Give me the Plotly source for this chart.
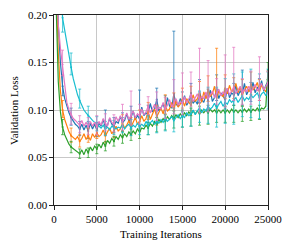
import plotly.graph_objects as go

iterations = list(range(250, 25001, 250))

blue = [0.30, 0.19, 0.15, 0.125, 0.112, 0.103, 0.097, 0.092, 0.088, 0.085,
        0.083, 0.080, 0.085, 0.079, 0.084, 0.078, 0.086, 0.080, 0.085, 0.079,
        0.086, 0.083, 0.090, 0.082, 0.084, 0.091, 0.085, 0.083, 0.088, 0.086,
        0.093, 0.087, 0.089, 0.096, 0.088, 0.092, 0.099, 0.090, 0.094, 0.091,
        0.103, 0.094, 0.097, 0.095, 0.107, 0.098, 0.101, 0.111, 0.099, 0.102,
        0.106, 0.100, 0.113, 0.104, 0.102, 0.117, 0.106, 0.104, 0.112, 0.107,
        0.115, 0.105, 0.109, 0.118, 0.107, 0.110, 0.106, 0.119, 0.111, 0.108,
        0.116, 0.110, 0.121, 0.109, 0.113, 0.122, 0.112, 0.118, 0.114, 0.111,
        0.123, 0.113, 0.118, 0.116, 0.126, 0.115, 0.120, 0.117, 0.128, 0.116,
        0.121, 0.119, 0.129, 0.118, 0.124, 0.121, 0.131, 0.120, 0.126, 0.130]

orange = [0.24, 0.16, 0.12, 0.100, 0.090, 0.083, 0.077, 0.073, 0.071, 0.069,
          0.072, 0.067, 0.070, 0.075, 0.069, 0.073, 0.068, 0.075, 0.071, 0.076,
          0.072, 0.074, 0.079, 0.073, 0.077, 0.081, 0.075, 0.078, 0.083, 0.078,
          0.080, 0.086, 0.081, 0.084, 0.089, 0.082, 0.087, 0.092, 0.085, 0.088,
          0.094, 0.088, 0.091, 0.098, 0.090, 0.096, 0.101, 0.093, 0.097, 0.102,
          0.096, 0.105, 0.099, 0.101, 0.108, 0.100, 0.110, 0.103, 0.106, 0.111,
          0.104, 0.112, 0.108, 0.105, 0.116, 0.109, 0.112, 0.117, 0.108, 0.119,
          0.112, 0.121, 0.114, 0.117, 0.125, 0.113, 0.120, 0.116, 0.114, 0.123,
          0.117, 0.126, 0.119, 0.122, 0.128, 0.118, 0.124, 0.116, 0.121, 0.125,
          0.119, 0.127, 0.121, 0.124, 0.129, 0.120, 0.126, 0.122, 0.119, 0.129]

green = [0.21, 0.13, 0.098, 0.082, 0.074, 0.068, 0.064, 0.061, 0.059, 0.058,
         0.056, 0.054, 0.058, 0.053, 0.059, 0.055, 0.061, 0.057, 0.062, 0.059,
         0.064, 0.060, 0.066, 0.062, 0.068, 0.065, 0.070, 0.067, 0.072, 0.069,
         0.074, 0.071, 0.075, 0.072, 0.077, 0.074, 0.078, 0.075, 0.080, 0.077,
         0.081, 0.080, 0.084, 0.081, 0.086, 0.083, 0.088, 0.085, 0.090, 0.087,
         0.091, 0.088, 0.093, 0.090, 0.094, 0.091, 0.095, 0.092, 0.096, 0.093,
         0.097, 0.094, 0.098, 0.095, 0.099, 0.096, 0.099, 0.096, 0.100, 0.097,
         0.100, 0.097, 0.101, 0.098, 0.100, 0.097, 0.100, 0.097, 0.100, 0.097,
         0.100, 0.097, 0.101, 0.098, 0.100, 0.097, 0.100, 0.098, 0.101, 0.098,
         0.101, 0.098, 0.101, 0.099, 0.102, 0.099, 0.102, 0.101, 0.104, 0.142]

pink = [0.26, 0.19, 0.165, 0.148, 0.125, 0.108, 0.100, 0.095, 0.091, 0.089,
        0.087, 0.084, 0.089, 0.083, 0.087, 0.082, 0.088, 0.083, 0.087, 0.082,
        0.088, 0.084, 0.091, 0.086, 0.083, 0.092, 0.087, 0.085, 0.093, 0.088,
        0.094, 0.088, 0.091, 0.097, 0.090, 0.094, 0.099, 0.092, 0.096, 0.094,
        0.101, 0.095, 0.098, 0.104, 0.097, 0.101, 0.106, 0.099, 0.103, 0.101,
        0.108, 0.101, 0.105, 0.111, 0.103, 0.107, 0.112, 0.105, 0.109, 0.107,
        0.114, 0.107, 0.111, 0.116, 0.109, 0.113, 0.117, 0.110, 0.114, 0.112,
        0.119, 0.112, 0.116, 0.120, 0.113, 0.118, 0.122, 0.115, 0.119, 0.116,
        0.123, 0.116, 0.120, 0.124, 0.117, 0.121, 0.125, 0.118, 0.122, 0.119,
        0.125, 0.119, 0.123, 0.127, 0.120, 0.124, 0.128, 0.121, 0.125, 0.129]

cyan = [0.40, 0.30, 0.24, 0.197, 0.183, 0.170, 0.158, 0.145, 0.133, 0.124,
        0.116, 0.110, 0.105, 0.100, 0.097, 0.094, 0.091, 0.089, 0.087, 0.085,
        0.083, 0.081, 0.084, 0.080, 0.082, 0.079, 0.083, 0.081, 0.080, 0.082,
        0.081, 0.084, 0.080, 0.083, 0.085, 0.081, 0.084, 0.082, 0.086, 0.083,
        0.085, 0.083, 0.088, 0.084, 0.086, 0.089, 0.085, 0.088, 0.086, 0.090,
        0.087, 0.091, 0.088, 0.090, 0.093, 0.089, 0.092, 0.095, 0.091, 0.094,
        0.092, 0.097, 0.094, 0.096, 0.100, 0.095, 0.099, 0.102, 0.097, 0.101,
        0.099, 0.104, 0.101, 0.103, 0.107, 0.102, 0.106, 0.109, 0.104, 0.108,
        0.106, 0.111, 0.108, 0.110, 0.113, 0.108, 0.112, 0.115, 0.110, 0.113,
        0.111, 0.116, 0.113, 0.115, 0.118, 0.113, 0.117, 0.119, 0.115, 0.121]

# error bars every 1000 iterations (1000 ... 25000)
blue_up = [0.012, 0.010, 0.008, 0.010, 0.008, 0.018, 0.009, 0.010, 0.012, 0.030, 0.010, 0.012, 0.015,
           0.066, 0.012, 0.010, 0.013, 0.012, 0.015, 0.010, 0.012, 0.025, 0.010, 0.012, 0.010]
blue_down = [0.010, 0.008, 0.007, 0.008, 0.007, 0.008, 0.007, 0.009, 0.008, 0.010, 0.008, 0.009, 0.010,
             0.012, 0.009, 0.010, 0.011, 0.010, 0.012, 0.010, 0.011, 0.012, 0.010, 0.011, 0.010]
orange_up = [0.010, 0.008, 0.007, 0.008, 0.007, 0.008, 0.008, 0.009, 0.010, 0.012, 0.010, 0.012, 0.011,
             0.018, 0.012, 0.020, 0.013, 0.015, 0.052, 0.014, 0.012, 0.016, 0.013, 0.012, 0.012]
orange_down = [0.008, 0.007, 0.006, 0.007, 0.006, 0.007, 0.007, 0.008, 0.008, 0.010, 0.008, 0.009, 0.009,
               0.010, 0.009, 0.011, 0.010, 0.012, 0.012, 0.011, 0.010, 0.012, 0.011, 0.010, 0.010]
green_up = [0.008, 0.006, 0.005, 0.005, 0.005, 0.005, 0.005, 0.006, 0.006, 0.006, 0.006, 0.007, 0.007,
            0.008, 0.007, 0.007, 0.008, 0.008, 0.007, 0.007, 0.007, 0.006, 0.006, 0.006, 0.008]
green_down = [0.008, 0.006, 0.005, 0.005, 0.005, 0.005, 0.005, 0.006, 0.006, 0.007, 0.007, 0.008, 0.009,
              0.010, 0.011, 0.012, 0.012, 0.012, 0.010, 0.010, 0.011, 0.010, 0.009, 0.009, 0.010]
pink_up = [0.015, 0.012, 0.010, 0.010, 0.012, 0.010, 0.010, 0.018, 0.026, 0.012, 0.010, 0.020, 0.012,
           0.025, 0.032, 0.024, 0.055, 0.040, 0.015, 0.042, 0.042, 0.015, 0.022, 0.032, 0.012]
pink_down = [0.012, 0.010, 0.008, 0.008, 0.008, 0.008, 0.008, 0.009, 0.010, 0.009, 0.009, 0.010, 0.010,
             0.011, 0.012, 0.012, 0.013, 0.014, 0.012, 0.013, 0.014, 0.012, 0.013, 0.014, 0.012]
cyan_up = [0.015, 0.015, 0.012, 0.010, 0.008, 0.008, 0.008, 0.008, 0.009, 0.010, 0.010, 0.011, 0.012,
           0.013, 0.015, 0.016, 0.018, 0.020, 0.022, 0.025, 0.028, 0.025, 0.027, 0.025, 0.022]
cyan_down = [0.015, 0.008, 0.008, 0.008, 0.007, 0.007, 0.007, 0.008, 0.008, 0.009, 0.010, 0.012, 0.013,
             0.012, 0.012, 0.013, 0.015, 0.018, 0.020, 0.022, 0.025, 0.022, 0.024, 0.022, 0.020]

x_ticks = [0, 5000, 10000, 15000, 20000, 25000]
y_ticks = [0.00, 0.05, 0.10, 0.15, 0.20]

series = [
    (blue, blue_up, blue_down, "#1f77b4", "rgba(31,119,180,0.75)"),
    (orange, orange_up, orange_down, "#ff7f0e", "rgba(255,127,14,0.75)"),
    (green, green_up, green_down, "#2ca02c", "rgba(44,160,44,0.75)"),
    (cyan, cyan_up, cyan_down, "#17becf", "rgba(23,190,207,0.75)"),
    (pink, pink_up, pink_down, "#e377c2", "rgba(227,119,194,0.75)"),
]

fig = go.Figure()
for vals, up, down, col, ecol in series:
    fig.add_trace(go.Scatter(x=iterations, y=vals, mode="lines",
                             line=dict(color=col, width=1.2), showlegend=False,
                             hoverinfo="skip"))
    ex = [iterations[i] for i in range(3, len(iterations), 4)]
    ey = [vals[i] for i in range(3, len(iterations), 4)]
    fig.add_trace(go.Scatter(x=ex, y=ey, mode="markers",
                             marker=dict(color=col, size=2),
                             error_y=dict(type="data", symmetric=False, array=up,
                                          arrayminus=down, color=ecol,
                                          thickness=1, width=1.5),
                             showlegend=False, hoverinfo="skip"))

font = dict(family="Liberation Serif, Times New Roman, serif", size=11, color="black")
fig.update_layout(
    width=284, height=242,
    margin=dict(l=46, r=24, t=7, b=45),
    paper_bgcolor="white", plot_bgcolor="white",
    font=font,
    annotations=[
        dict(text="Training Iterations", xref="paper", yref="paper", x=0.5, y=-0.153,
             xanchor="center", yanchor="middle", showarrow=False, font=font),
        dict(text="Validation Loss", xref="paper", yref="paper", x=-0.187, y=0.5,
             xanchor="center", yanchor="middle", textangle=-90, showarrow=False, font=font),
    ],
)
fig.update_xaxes(range=[0, 25000], tickvals=x_ticks, ticktext=[str(v) for v in x_ticks],
                 showgrid=True, gridcolor="#c8c8c8", gridwidth=1,
                 showline=True, linecolor="#222", linewidth=1.3, mirror=True,
                 ticks="outside", ticklen=3.5, tickcolor="#222",
                 zeroline=False, automargin=False)
fig.update_yaxes(range=[0, 0.2], tickvals=y_ticks, ticktext=["%.2f" % v for v in y_ticks],
                 showgrid=True, gridcolor="#c8c8c8", gridwidth=1,
                 showline=True, linecolor="#222", linewidth=1.3, mirror=True,
                 ticks="outside", ticklen=3.5, tickcolor="#222",
                 zeroline=False, automargin=False)

fig.write_html("out.html")
